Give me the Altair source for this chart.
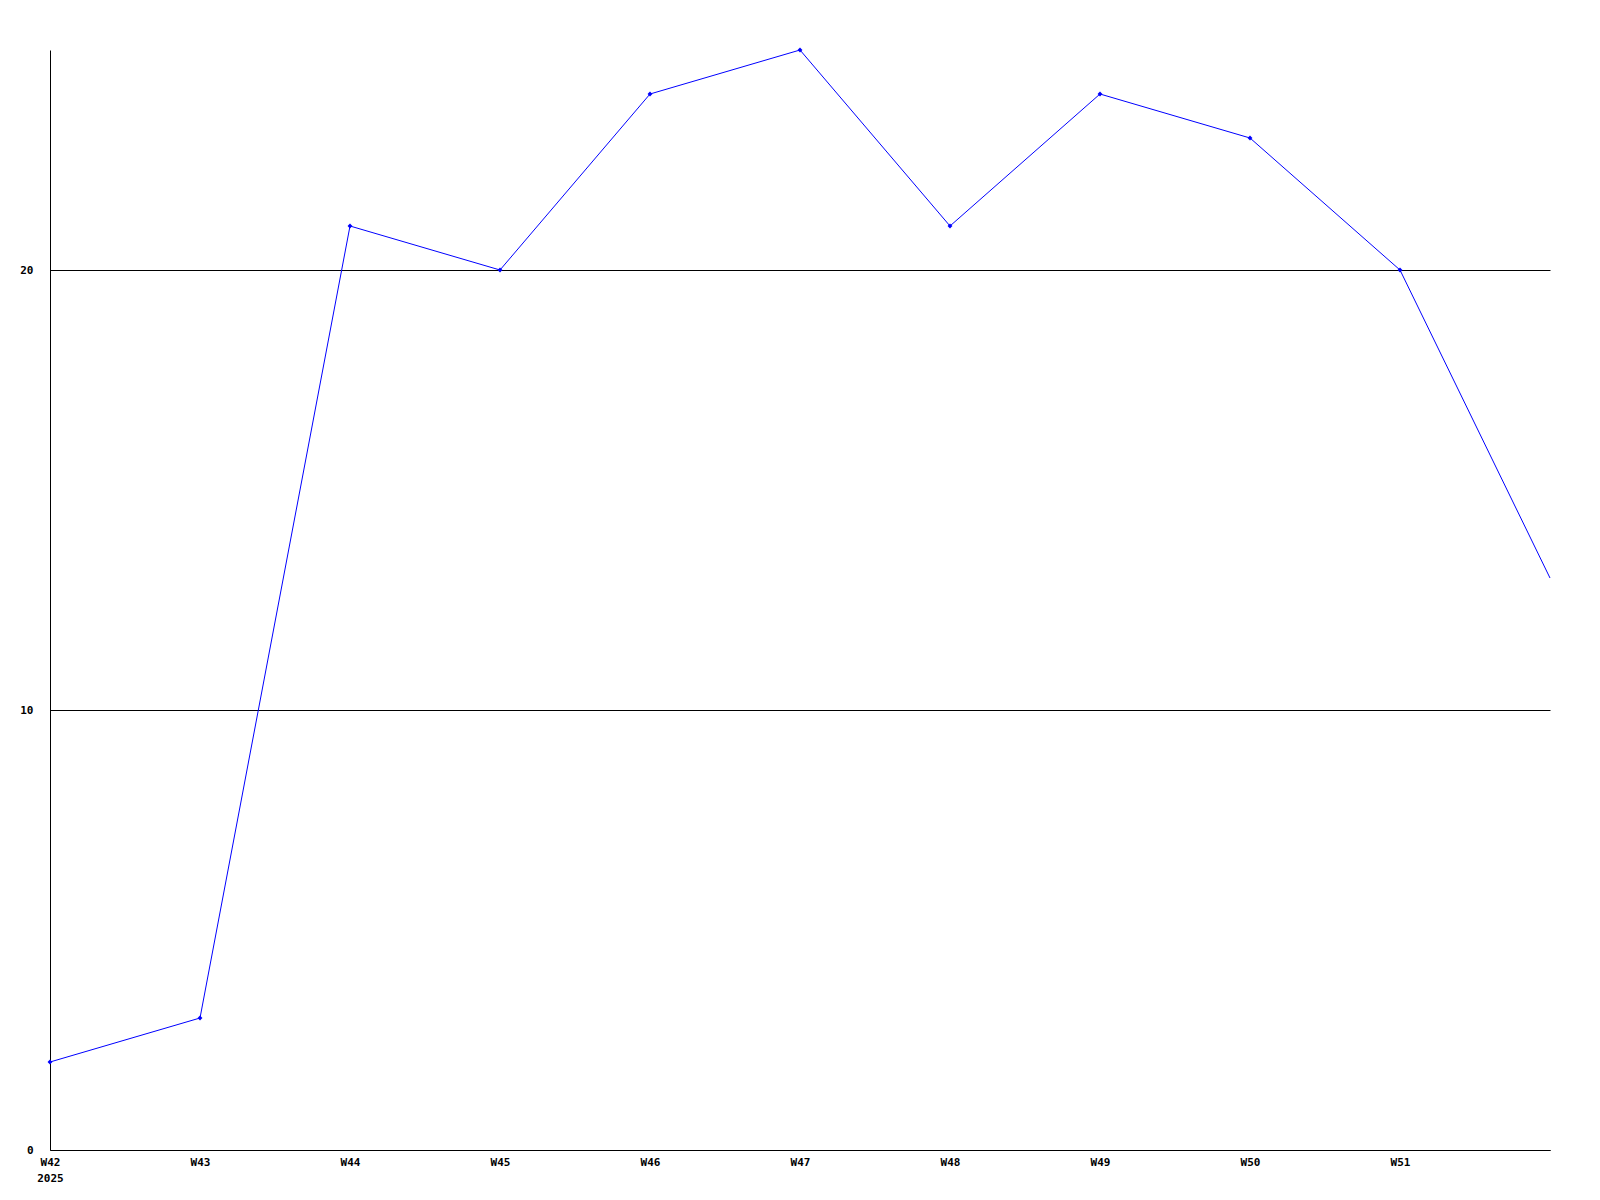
import altair as alt
import pandas as pd

weeks = [42, 43, 44, 45, 46, 47, 48, 49, 50, 51, 52]
values = [2, 3, 21, 20, 24, 25, 21, 24, 23, 20, 13]
tick_weeks = [42, 43, 44, 45, 46, 47, 48, 49, 50, 51]
y_ticks = [0, 10, 20]

df = pd.DataFrame({"week": weeks, "value": values})
df_pts = df[df["week"] <= 51]

FONT = "DejaVu Sans Mono"

x_enc = alt.X(
    "week:Q",
    scale=alt.Scale(domain=[42, 52], nice=False, zero=False),
    axis=alt.Axis(
        values=tick_weeks,
        title=None,
        grid=False,
        ticks=False,
        tickSize=0,
        domainColor="black",
        labelFont=FONT,
        labelFontSize=11,
        labelFontWeight="bold",
        labelColor="black",
        labelPadding=6,
        labelLineHeight=16,
        labelFlush=False,
        labelOverlap=False,
        labelExpr="datum.value == 42 ? ['W42', '2025'] : 'W' + datum.value",
    ),
)
y_enc = alt.Y(
    "value:Q",
    scale=alt.Scale(domain=[0, 25], nice=False),
    axis=alt.Axis(
        values=y_ticks,
        title=None,
        grid=True,
        gridColor="black",
        gridOpacity=1,
        ticks=False,
        tickSize=0,
        domainColor="black",
        labelFont=FONT,
        labelFontSize=11,
        labelFontWeight="bold",
        labelColor="black",
        labelPadding=17,
    ),
)

line = alt.Chart(df).mark_line(color="#0000ff", strokeWidth=1).encode(x=x_enc, y=y_enc)
pts = alt.Chart(df_pts).mark_point(
    shape="diamond", filled=True, color="#0000ff", size=24, opacity=1
).encode(x=x_enc, y=y_enc)

chart = (
    alt.layer(line, pts)
    .properties(
        width=1500,
        height=1100,
        background="white",
        autosize=alt.AutoSizeParams(type="none"),
        padding={"left": 42, "top": 42, "right": 10, "bottom": 40},
    )
    .configure_view(stroke=None, strokeWidth=0)
)

chart.save("out.html", embed_options={"renderer": "svg", "actions": False})
